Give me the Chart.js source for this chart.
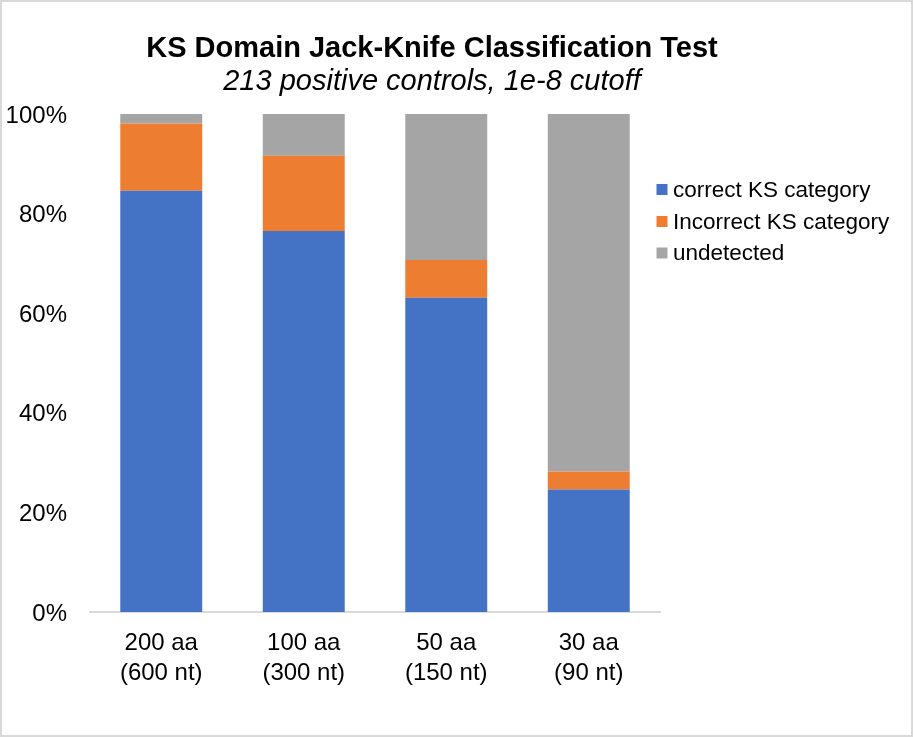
<!DOCTYPE html>
<html>
<head>
<meta charset="utf-8">
<title>KS Domain Jack-Knife Classification Test</title>
<script src="https://cdn.jsdelivr.net/npm/chart.js@4"></script>
<style>
  html, body { margin: 0; padding: 0; background: #fff; }
  #wrap { position: relative; width: 913px; height: 737px; }
</style>
</head>
<body>
<div id="wrap"><canvas id="ksChart"></canvas></div>
<script>
const categories = [
    ['200 aa', '(600 nt)'],
    ['100 aa', '(300 nt)'],
    ['50 aa', '(150 nt)'],
    ['30 aa', '(90 nt)']
];
const correctPct = [84.6, 76.5, 63.1, 24.6];
const incorrectPct = [13.5, 15.1, 7.6, 3.6];
const undetectedPct = [1.9, 8.4, 29.3, 71.8];
const seriesNames = ['correct KS category', 'Incorrect KS category', 'undetected'];
const seriesColors = ['#4472C4', '#ED7D31', '#A5A5A5'];
const yTicks = [0, 20, 40, 60, 80, 100];
const titleText = 'KS Domain Jack-Knife Classification Test';
const subtitleText = '213 positive controls, 1e-8 cutoff';

const FONT = '"Liberation Sans", Arial, sans-serif';

// white background + light grey frame like the Excel chart border
const framePlugin = {
    id: 'frame',
    beforeDraw(chart) {
        const ctx = chart.ctx;
        ctx.save();
        ctx.fillStyle = '#fff';
        ctx.fillRect(0, 0, chart.width, chart.height);
        ctx.restore();
    },
    afterDraw(chart) {
        const ctx = chart.ctx;
        ctx.save();
        ctx.strokeStyle = '#d9d9d9';
        ctx.lineWidth = 2;
        ctx.strokeRect(1, 1, chart.width - 2, chart.height - 2);
        ctx.restore();
    }
};

// title block sits off-centre in the original, so draw it by hand
const titlePlugin = {
    id: 'titleBlock',
    afterDraw(chart) {
        const ctx = chart.ctx;
        ctx.save();
        ctx.fillStyle = '#000';
        ctx.textAlign = 'center';
        ctx.textBaseline = 'alphabetic';
        ctx.font = 'bold 29px ' + FONT;
        ctx.fillText(titleText, 432, 57);
        ctx.font = 'italic 29px ' + FONT;
        ctx.fillText(subtitleText, 432, 90);
        ctx.restore();
    }
};

const legendPlugin = {
    id: 'sideLegend',
    afterDraw(chart) {
        const ctx = chart.ctx;
        const rows = [189.5, 221.5, 253];
        ctx.save();
        ctx.font = '22.5px ' + FONT;
        ctx.textAlign = 'left';
        ctx.textBaseline = 'middle';
        chart.data.datasets.forEach((ds, i) => {
            ctx.fillStyle = ds.backgroundColor;
            ctx.fillRect(656.5, rows[i] - 5.5, 11, 11);
            ctx.fillStyle = '#000';
            ctx.fillText(ds.label, 673, rows[i] + 1);
        });
        ctx.restore();
    }
};

function drawChart() {
    const ctx = document.getElementById('ksChart').getContext('2d');
    const values = [correctPct, incorrectPct, undetectedPct];

    window._ksChart = new Chart(ctx, {
        type: 'bar',
        data: {
            labels: categories,
            datasets: values.map((vals, i) => ({
                label: seriesNames[i],
                data: vals,
                backgroundColor: seriesColors[i],
                borderWidth: 0,
                categoryPercentage: 1.0,
                barPercentage: 0.575
            }))
        },
        options: {
            responsive: true,
            maintainAspectRatio: false,
            animation: false,
            layout: { padding: { top: 114, left: 0, right: 253, bottom: 33 } },
            scales: {
                x: {
                    stacked: true,
                    grid: { display: false, drawTicks: false },
                    border: { display: true, color: '#d9d9d9', width: 2 },
                    ticks: {
                        color: '#000',
                        padding: 16,
                        maxRotation: 0,
                        font: { family: FONT, size: 24, lineHeight: 1.25 }
                    }
                },
                y: {
                    stacked: true,
                    min: 0,
                    max: 100,
                    grid: { display: false, drawTicks: false },
                    border: { display: false },
                    afterBuildTicks(scale) {
                        scale.ticks = yTicks.map(v => ({ value: v }));
                    },
                    afterFit(scale) {
                        scale.width = 90;
                    },
                    ticks: {
                        color: '#000',
                        padding: 23,
                        labelOffset: 2,
                        font: { family: FONT, size: 24 },
                        callback: v => v + '%'
                    }
                }
            },
            plugins: {
                legend: { display: false },
                title: { display: false },
                tooltip: { enabled: false }
            }
        },
        plugins: [framePlugin, titlePlugin, legendPlugin]
    });
}

window.addEventListener('load', drawChart);
</script>
</body>
</html>
